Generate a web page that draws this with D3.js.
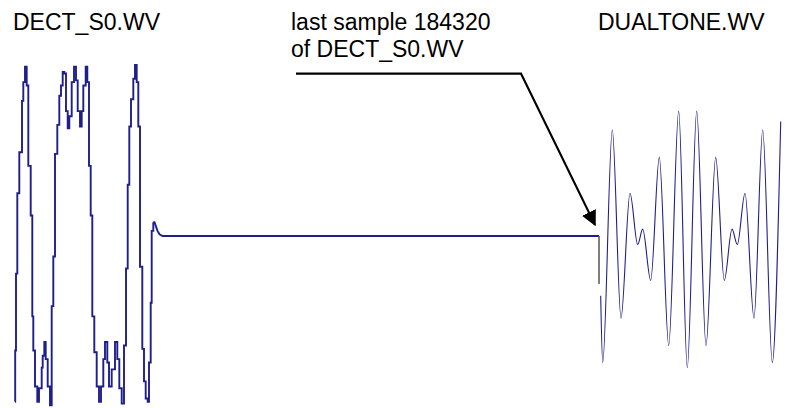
<!DOCTYPE html>
<html>
<head>
<meta charset="utf-8">
<script src="https://cdn.jsdelivr.net/npm/d3@7"></script>
<style>
  body { margin: 0; background: #fff; }
  svg text { font-family: Arial, "Liberation Sans", sans-serif; fill: #000; }
</style>
</head>
<body>
<svg id="chart"></svg>
<script>
// DECT_S0.WV: stepped (sample & hold) waveform, step start times and levels
const dectT = [15, 15.2, 16, 17.3, 19.3, 22, 23.3, 25, 26.7, 28.3, 30.7, 32.3, 33.3, 35, 37.3,
  39, 41.7, 42.7, 44.3, 45.7, 47.7, 50, 51.7, 53.3, 55, 57.3, 59.3, 61, 62.7, 64.3,
  66, 67.7, 69.3, 71.7, 74, 76, 77.7, 80, 81.7, 83.3, 85.7, 87.3, 89, 90.7, 92.3,
  94.3, 96.7, 99, 101, 103.3, 105, 107.3, 109, 111.7, 115, 117.3, 119.3, 121.7, 124, 126,
  127.7, 129.3, 131, 133.3, 135, 136.7, 138.3, 140, 142.3, 144, 145.7, 147.7, 149, 150.7, 151.7, 153.3];
const dectV = [-97, -67, -22, 25, 49, 79, 90, 99, 88, 41, 12, -47, -67, -88, -97,
  -89, -77, -70, -62, -72, -88, -99, -41, -12, 48, 65, 82, 88, 96, 95,
  73, 63, 70, 90, 99, 91, 73, 64, 73, 88, 99, 90, 41, 12, -47,
  -68, -88, -97, -88, -72, -62, -74, -88, -78, -62, -72, -89, -98, -64, -19,
  30, 64, 80, 92, 100, 90, 64, -18, -66, -85, -95, -97, -74, -39, 3, 8];

// settling tail of DECT_S0.WV up to its last sample
const tailT = [153.3, 154.5, 157.5, 159.5, 162.5, 599];
const tailV = [8, 8, 3, 1, 0, 0];

// DUALTONE.WV: turning points of the two-tone signal
const dualT = [600.7, 602.7, 612.3, 621, 630, 637.7, 642.7, 650.7, 659.3, 668.7, 678.7, 687.3,
  696.7, 706, 715.7, 724.3, 732, 737.3, 745, 754, 762.7, 772.3, 780.7];
const dualV = [-35, -74, 62, -48, 25, -5, 4, -26, 46, -64, 73, -77,
  73, -64, 46, -26, 4, -5, 25, -48, 62, -74, 67];

const lastSampleT = 599;
const lastSampleDrop = -28;

const labels = ["DECT_S0.WV", "DUALTONE.WV"];
const noteLines = ["last sample 184320", "of DECT_S0.WV"];

const width = 795, height = 408;
const blue = "#1f1f8c";

const svg = d3.select("#chart").attr("width", width).attr("height", height);

const x = d3.scaleLinear().domain([0, 795]).range([0, width]);
const y = d3.scaleLinear().domain([-100, 100]).range([407, 65]);

const zip = (ts, vs) => ts.map((t, i) => [t, vs[i]]);

const stepLine = d3.line().x(d => x(d[0])).y(d => y(d[1])).curve(d3.curveStepAfter);
const straight = d3.line().x(d => x(d[0])).y(d => y(d[1]));
const smooth = d3.line().x(d => x(d[0])).y(d => y(d[1])).curve(d3.curveMonotoneX);

// left waveform
svg.append("path")
    .attr("d", stepLine(zip(dectT, dectV)))
    .attr("fill", "none").attr("stroke", blue).attr("stroke-width", 1.9);
svg.append("path")
    .attr("d", straight(zip(tailT, tailV)))
    .attr("fill", "none").attr("stroke", blue).attr("stroke-width", 1.9);

// marker where the first file ends
svg.append("line")
    .attr("x1", x(lastSampleT)).attr("x2", x(lastSampleT))
    .attr("y1", y(0)).attr("y2", y(lastSampleDrop))
    .attr("stroke", "#555").attr("stroke-width", 1.5);

// right waveform
svg.append("path")
    .attr("d", smooth(zip(dualT, dualV)))
    .attr("fill", "none").attr("stroke", blue).attr("stroke-width", 1.1);

// arrow
svg.append("defs").append("marker")
    .attr("id", "head")
    .attr("viewBox", "0 0 10 10")
    .attr("refX", 9).attr("refY", 5)
    .attr("markerWidth", 7).attr("markerHeight", 7)
    .attr("markerUnits", "strokeWidth")
    .attr("orient", "auto")
  .append("path")
    .attr("d", "M0,0 L10,5 L0,10 Z")
    .attr("fill", "#000");

svg.append("path")
    .attr("d", straight([[296, 95], [521, 95], [595, 6.5]]))
    .attr("fill", "none").attr("stroke", "#000").attr("stroke-width", 2.2)
    .attr("marker-end", "url(#head)");

// text
const fs = 23;
svg.append("text").attr("x", 13).attr("y", 30).attr("font-size", fs).text(labels[0]);
svg.append("text").attr("x", 598).attr("y", 30).attr("font-size", fs).text(labels[1]);
svg.append("text").attr("x", 291).attr("y", 30).attr("font-size", fs).text(noteLines[0]);
svg.append("text").attr("x", 291).attr("y", 57).attr("font-size", fs).text(noteLines[1]);
</script>
</body>
</html>
